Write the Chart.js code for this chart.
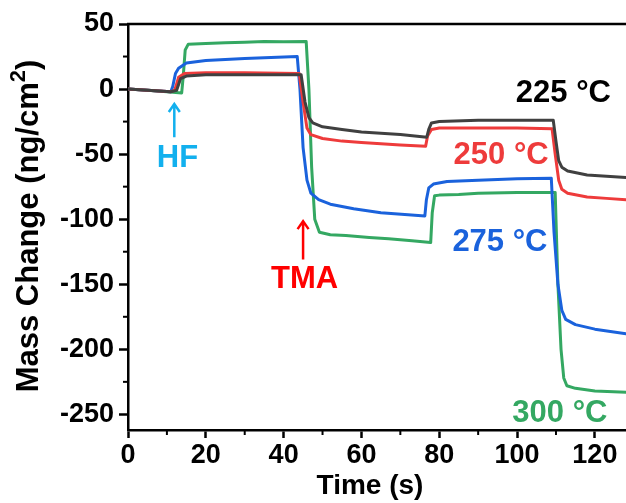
<!DOCTYPE html>
<html>
<head>
<meta charset="utf-8">
<script src="https://cdn.jsdelivr.net/npm/chart.js@4.4.1/dist/chart.umd.min.js"></script>
<style>
  html, body { margin: 0; padding: 0; background: #fff; }
  #wrap { width: 626px; height: 503px; }
</style>
</head>
<body>
<div id="wrap"><canvas id="chart"></canvas></div>
<script>
// Mass change traces (time in s, mass in ng/cm2)
const t225 = [0, 5, 11, 12.5, 13.5, 15, 20, 30, 44.5, 45.5, 46.5, 47.5, 50, 55, 60, 70, 76.8, 77.3, 78, 80, 90, 100, 109.3, 110, 110.7, 111.5, 113, 118, 123, 128];
const m225 = [0, -1, -2, -1, 8, 10, 11, 11, 11, -10, -22, -26, -29, -31, -33, -35, -37, -31, -26, -25, -24, -24, -24, -40, -55, -60, -63, -66, -67, -68];

const t250 = [0, 5, 11, 12, 13, 14.5, 20, 30, 44, 45, 46, 47, 50, 55, 60, 70, 76.5, 77, 78, 80, 90, 100, 109, 109.8, 110.7, 111.5, 113, 118, 123, 128];
const m250 = [0, -1, -2, -1, 9, 12, 12.5, 12.5, 12, -10, -30, -35, -38, -40, -41, -43, -44, -36, -31, -30, -30, -30, -30.5, -50, -70, -77, -80, -83, -84, -85];

const t275 = [0, 5, 11, 11.5, 12.2, 13, 15, 20, 30, 43.5, 44.2, 45, 46, 47, 49, 52, 58, 65, 72, 76.3, 76.7, 77.3, 78.5, 82, 90, 100, 108.8, 109.5, 110.5, 111.5, 112.5, 115, 120, 128];
const m275 = [0, -1, -2, 2, 12, 16, 20, 22, 23.5, 25, 0, -45, -70, -80, -85, -88.5, -92, -95, -96.5, -97.5, -85, -76, -73, -71, -70, -69, -68.5, -110, -150, -170, -177, -181, -184.5, -188];

const t300 = [0, 5, 10, 13.8, 14.2, 14.7, 15.5, 20, 25, 30, 35, 40, 45.8, 46.5, 47.2, 48, 49.2, 52, 56, 62, 67, 73, 77.8, 78.2, 78.8, 80, 85, 90, 100, 109.8, 110.5, 111.3, 112, 112.8, 115, 120, 128];
const m300 = [0, -1, -2, -3, 10, 30, 34.5, 35, 35.5, 36, 36.5, 36.3, 36.5, 0, -60, -100, -110, -112, -112.5, -114, -115, -116.5, -118, -95, -82, -81.5, -81, -80, -79.5, -79.5, -150, -200, -222, -228, -230, -232, -233];

const xTicks = [0, 20, 40, 60, 80, 100, 120];
const xMinor = [10, 30, 50, 70, 90, 110];
const yTicks = [50, 0, -50, -100, -150, -200, -250];
const yMinor = [25, -25, -75, -125, -175, -225];

const FONT = "'Liberation Sans', Arial, sans-serif";

// text labels placed in data coordinates
const notes = [
    { text: "225 °C", x: 111.9, y: -3.7, color: "#000000" },
    { text: "250 °C", x: 95.9, y: -51.3, color: "#ee3b3b" },
    { text: "275 °C", x: 95.6, y: -118, color: "#1a62dc" },
    { text: "300 °C", x: 111, y: -249, color: "#34a862" },
    { text: "HF", x: 12.7, y: -53, color: "#12b0ee" },
    { text: "TMA", x: 45.4, y: -146, color: "#ff0000" }
];
const arrows = [
    { x: 11.9, from: -37, to: -11.5, color: "#12b0ee" },
    { x: 45, from: -131, to: -101.5, color: "#ff0000" }
];

function pts(t, m) {
    return t.map((v, i) => ({ x: v, y: m[i] }));
}

function series(label, t, m, color) {
    return {
        label: label,
        data: pts(t, m),
        borderColor: color,
        backgroundColor: color,
        borderWidth: 3,
        pointRadius: 0,
        tension: 0,
        borderJoinStyle: "round",
        borderCapStyle: "round"
    };
}

const overlay = {
    id: "overlay",
    afterDraw(chart) {
        const ctx = chart.ctx;
        const x = chart.scales.x, y = chart.scales.y;
        const a = chart.chartArea;
        ctx.save();
        ctx.strokeStyle = "#000";
        ctx.lineWidth = 2.5;
        ctx.beginPath();
        ctx.moveTo(a.left - 1, a.top);
        ctx.lineTo(a.right, a.top);
        ctx.stroke();

        // minor ticks
        ctx.lineWidth = 2;
        xMinor.forEach(v => {
            const px = x.getPixelForValue(v);
            ctx.beginPath();
            ctx.moveTo(px, a.bottom);
            ctx.lineTo(px, a.bottom + 5);
            ctx.stroke();
        });
        yMinor.forEach(v => {
            const py = y.getPixelForValue(v);
            ctx.beginPath();
            ctx.moveTo(a.left - 5, py);
            ctx.lineTo(a.left, py);
            ctx.stroke();
        });

        // axis titles
        ctx.fillStyle = "#000";
        ctx.textBaseline = "middle";
        ctx.textAlign = "center";
        ctx.font = "bold 28px " + FONT;
        ctx.fillText("Time (s)", 370, 486);

        ctx.save();
        ctx.translate(29, 226);
        ctx.rotate(-Math.PI / 2);
        const big = "bold 31px " + FONT, small = "bold 22px " + FONT;
        ctx.font = big;
        const w1 = ctx.measureText("Mass Change (ng/cm").width;
        const w3 = ctx.measureText(")").width;
        ctx.font = small;
        const w2 = ctx.measureText("2").width;
        let sx = -(w1 + w2 + w3) / 2;
        ctx.textAlign = "left";
        ctx.font = big;
        ctx.fillText("Mass Change (ng/cm", sx, 0);
        ctx.font = small;
        ctx.fillText("2", sx + w1, -10);
        ctx.font = big;
        ctx.fillText(")", sx + w1 + w2, 0);
        ctx.restore();

        // annotations
        ctx.font = "bold 31px " + FONT;
        ctx.textAlign = "center";
        notes.forEach(n => {
            ctx.fillStyle = n.color;
            ctx.fillText(n.text, x.getPixelForValue(n.x), y.getPixelForValue(n.y));
        });

        arrows.forEach(ar => {
            const px = x.getPixelForValue(ar.x);
            const y0 = y.getPixelForValue(ar.from);
            const y1 = y.getPixelForValue(ar.to);
            ctx.strokeStyle = ar.color;
            ctx.lineWidth = 2.5;
            ctx.beginPath();
            ctx.moveTo(px, y0);
            ctx.lineTo(px, y1);
            ctx.moveTo(px - 5.5, y1 + 8);
            ctx.lineTo(px, y1);
            ctx.lineTo(px + 5.5, y1 + 8);
            ctx.stroke();
        });
        ctx.restore();
    }
};

new Chart(document.getElementById("chart"), {
    type: "line",
    data: {
        datasets: [
            series("225 °C", t225, m225, "#404040"),
            series("250 °C", t250, m250, "#ee3b3b"),
            series("275 °C", t275, m275, "#1a62dc"),
            series("300 °C", t300, m300, "#34a862")
        ]
    },
    options: {
        animation: false,
        responsive: true,
        maintainAspectRatio: false,
        layout: { padding: { top: 24, left: 0, right: 0, bottom: 0 } },
        plugins: {
            legend: { display: false },
            tooltip: { enabled: false }
        },
        scales: {
            x: {
                type: "linear",
                min: 0,
                max: 128,
                afterFit: s => { s.height = 73; },
                afterBuildTicks: s => { s.ticks = xTicks.map(v => ({ value: v })); },
                border: { color: "#000", width: 2.5 },
                grid: { drawOnChartArea: false, tickLength: 8, tickWidth: 2.5, tickColor: "#000" },
                ticks: {
                    color: "#000",
                    padding: 1,
                    maxRotation: 0,
                    autoSkip: false,
                    font: { family: FONT, size: 27, weight: "bold" }
                }
            },
            y: {
                min: -262,
                max: 50,
                afterFit: s => { s.width = 128; },
                afterBuildTicks: s => { s.ticks = yTicks.map(v => ({ value: v })); },
                border: { color: "#000", width: 2.5 },
                grid: { drawOnChartArea: false, tickLength: 9, tickWidth: 2.5, tickColor: "#000" },
                ticks: {
                    color: "#000",
                    padding: 5,
                    autoSkip: false,
                    font: { family: FONT, size: 27, weight: "bold" }
                }
            }
        }
    },
    plugins: [overlay]
});
</script>
</body>
</html>
